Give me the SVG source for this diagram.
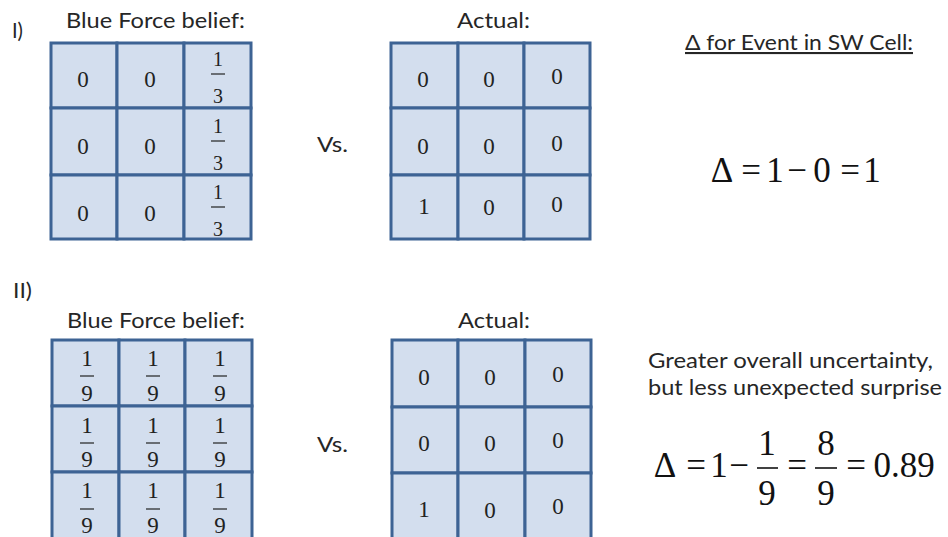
<svg xmlns="http://www.w3.org/2000/svg" width="948" height="537" viewBox="0 0 948 537">
<style>
.bg{fill:#ffffff}
.cell{fill:#d3deee;stroke:#3d6394;stroke-width:3}
.lbl{font-family:Lato,"Open Sans","Liberation Sans",sans-serif;font-size:21px;fill:#262626}
.num{font-family:"Liberation Serif","Times New Roman",serif;font-size:23px;fill:#222;text-anchor:middle}
.fr{font-family:"Liberation Serif","Times New Roman",serif;font-size:20px;fill:#222;text-anchor:middle}
.fr9{font-family:"Liberation Serif","Times New Roman",serif;font-size:23px;fill:#222;text-anchor:middle}
.bar{stroke:#222;stroke-width:1.2}
.eq{font-family:"Liberation Serif","Times New Roman",serif;font-size:35px;fill:#111;text-anchor:middle}
.ebar{stroke:#111;stroke-width:1.6}
</style>
<rect class="bg" x="0" y="0" width="948" height="537"/>

<g id="labels">
<text class="lbl" x="12" y="38" textLength="11" lengthAdjust="spacingAndGlyphs">I)</text>
<text class="lbl" x="66" y="28" textLength="179" lengthAdjust="spacingAndGlyphs">Blue Force belief:</text>
<text class="lbl" x="457" y="28" textLength="73" lengthAdjust="spacingAndGlyphs">Actual:</text>
<text class="lbl" x="317" y="152" textLength="31" lengthAdjust="spacingAndGlyphs">Vs.</text>
<text class="lbl" x="685" y="50" textLength="228" lengthAdjust="spacingAndGlyphs" text-decoration="underline">Δ for Event in SW Cell:</text>
<text class="lbl" x="13" y="298" textLength="19" lengthAdjust="spacingAndGlyphs">II)</text>
<text class="lbl" x="67" y="328" textLength="178" lengthAdjust="spacingAndGlyphs">Blue Force belief:</text>
<text class="lbl" x="458" y="328" textLength="72" lengthAdjust="spacingAndGlyphs">Actual:</text>
<text class="lbl" x="317" y="452" textLength="31" lengthAdjust="spacingAndGlyphs">Vs.</text>
<text class="lbl" x="648" y="368" textLength="285" lengthAdjust="spacingAndGlyphs">Greater overall uncertainty,</text>
<text class="lbl" x="648" y="395" textLength="294" lengthAdjust="spacingAndGlyphs">but less unexpected surprise</text>
</g>

<g id="grid-belief-1">
<rect class="cell" x="51" y="43" width="66" height="65"/>
<rect class="cell" x="117" y="43" width="67" height="65"/>
<rect class="cell" x="184" y="43" width="67" height="65"/>
<rect class="cell" x="51" y="108" width="66" height="67"/>
<rect class="cell" x="117" y="108" width="67" height="67"/>
<rect class="cell" x="184" y="108" width="67" height="67"/>
<rect class="cell" x="51" y="175" width="66" height="64"/>
<rect class="cell" x="117" y="175" width="67" height="64"/>
<rect class="cell" x="184" y="175" width="67" height="64"/>
<text class="num" x="83" y="87">0</text><text class="num" x="150" y="87">0</text>
<text class="num" x="83" y="154">0</text><text class="num" x="150" y="154">0</text>
<text class="num" x="83" y="221">0</text><text class="num" x="150" y="221">0</text>
<text class="fr" x="218" y="66">1</text><line class="bar" x1="211" y1="74" x2="225" y2="74"/><text class="fr" x="218" y="103">3</text>
<text class="fr" x="218" y="133">1</text><line class="bar" x1="211" y1="141" x2="225" y2="141"/><text class="fr" x="218" y="170">3</text>
<text class="fr" x="218" y="199">1</text><line class="bar" x1="211" y1="207" x2="225" y2="207"/><text class="fr" x="218" y="236">3</text>
</g>

<g id="grid-actual-1">
<rect class="cell" x="391" y="43" width="67" height="65"/>
<rect class="cell" x="458" y="43" width="66" height="65"/>
<rect class="cell" x="524" y="43" width="66" height="65"/>
<rect class="cell" x="391" y="108" width="67" height="67"/>
<rect class="cell" x="458" y="108" width="66" height="67"/>
<rect class="cell" x="524" y="108" width="66" height="67"/>
<rect class="cell" x="391" y="175" width="67" height="64"/>
<rect class="cell" x="458" y="175" width="66" height="64"/>
<rect class="cell" x="524" y="175" width="66" height="64"/>
<text class="num" x="423" y="87">0</text><text class="num" x="489" y="87">0</text><text class="num" x="557" y="84">0</text>
<text class="num" x="423" y="154">0</text><text class="num" x="489" y="154">0</text><text class="num" x="557" y="151">0</text>
<text class="num" x="424" y="214">1</text><text class="num" x="489" y="215">0</text><text class="num" x="557" y="212">0</text>
</g>

<g id="grid-belief-2">
<rect class="cell" x="52" y="340" width="67" height="66"/>
<rect class="cell" x="119" y="340" width="66" height="66"/>
<rect class="cell" x="185" y="340" width="67" height="66"/>
<rect class="cell" x="52" y="406" width="67" height="66"/>
<rect class="cell" x="119" y="406" width="66" height="66"/>
<rect class="cell" x="185" y="406" width="67" height="66"/>
<rect class="cell" x="52" y="472" width="67" height="70"/>
<rect class="cell" x="119" y="472" width="66" height="70"/>
<rect class="cell" x="185" y="472" width="67" height="70"/>
<text class="fr9" x="87" y="366">1</text><line class="bar" x1="80" y1="376" x2="94" y2="376"/><text class="fr9" x="87" y="401">9</text>
<text class="fr9" x="153" y="366">1</text><line class="bar" x1="146" y1="376" x2="160" y2="376"/><text class="fr9" x="153" y="401">9</text>
<text class="fr9" x="220" y="366">1</text><line class="bar" x1="213" y1="376" x2="227" y2="376"/><text class="fr9" x="220" y="401">9</text>
<text class="fr9" x="87" y="433">1</text><line class="bar" x1="80" y1="443" x2="94" y2="443"/><text class="fr9" x="87" y="467">9</text>
<text class="fr9" x="153" y="433">1</text><line class="bar" x1="146" y1="443" x2="160" y2="443"/><text class="fr9" x="153" y="467">9</text>
<text class="fr9" x="220" y="433">1</text><line class="bar" x1="213" y1="443" x2="227" y2="443"/><text class="fr9" x="220" y="467">9</text>
<text class="fr9" x="87" y="498">1</text><line class="bar" x1="80" y1="509" x2="94" y2="509"/><text class="fr9" x="87" y="533">9</text>
<text class="fr9" x="153" y="498">1</text><line class="bar" x1="146" y1="509" x2="160" y2="509"/><text class="fr9" x="153" y="533">9</text>
<text class="fr9" x="220" y="498">1</text><line class="bar" x1="213" y1="509" x2="227" y2="509"/><text class="fr9" x="220" y="533">9</text>
</g>

<g id="grid-actual-2">
<rect class="cell" x="392" y="340" width="66" height="67"/>
<rect class="cell" x="458" y="340" width="67" height="67"/>
<rect class="cell" x="525" y="340" width="66" height="67"/>
<rect class="cell" x="392" y="407" width="66" height="66"/>
<rect class="cell" x="458" y="407" width="67" height="66"/>
<rect class="cell" x="525" y="407" width="66" height="66"/>
<rect class="cell" x="392" y="473" width="66" height="70"/>
<rect class="cell" x="458" y="473" width="67" height="70"/>
<rect class="cell" x="525" y="473" width="66" height="70"/>
<text class="num" x="424" y="385">0</text><text class="num" x="490" y="385">0</text><text class="num" x="558" y="382">0</text>
<text class="num" x="424" y="451">0</text><text class="num" x="490" y="451">0</text><text class="num" x="558" y="448">0</text>
<text class="num" x="424" y="517">1</text><text class="num" x="490" y="518">0</text><text class="num" x="558" y="514">0</text>
</g>

<g id="equation-1">
<text class="eq" y="182"><tspan x="722">Δ</tspan><tspan x="751">=</tspan><tspan x="775">1</tspan><tspan x="797">−</tspan><tspan x="822">0</tspan><tspan x="850">=</tspan><tspan x="872">1</tspan></text>
</g>

<g id="equation-2">
<text class="eq" y="477"><tspan x="665">Δ</tspan><tspan x="696">=</tspan><tspan x="719">1</tspan><tspan x="739">−</tspan><tspan x="797">=</tspan><tspan x="856">=</tspan></text>
<text class="eq" x="904" y="477">0.89</text>
<text class="eq" x="767" y="455">1</text><line class="ebar" x1="757" y1="468" x2="778" y2="468"/><text class="eq" x="767" y="505">9</text>
<text class="eq" x="826" y="455">8</text><line class="ebar" x1="815" y1="468" x2="837" y2="468"/><text class="eq" x="826" y="505">9</text>
</g>
</svg>
